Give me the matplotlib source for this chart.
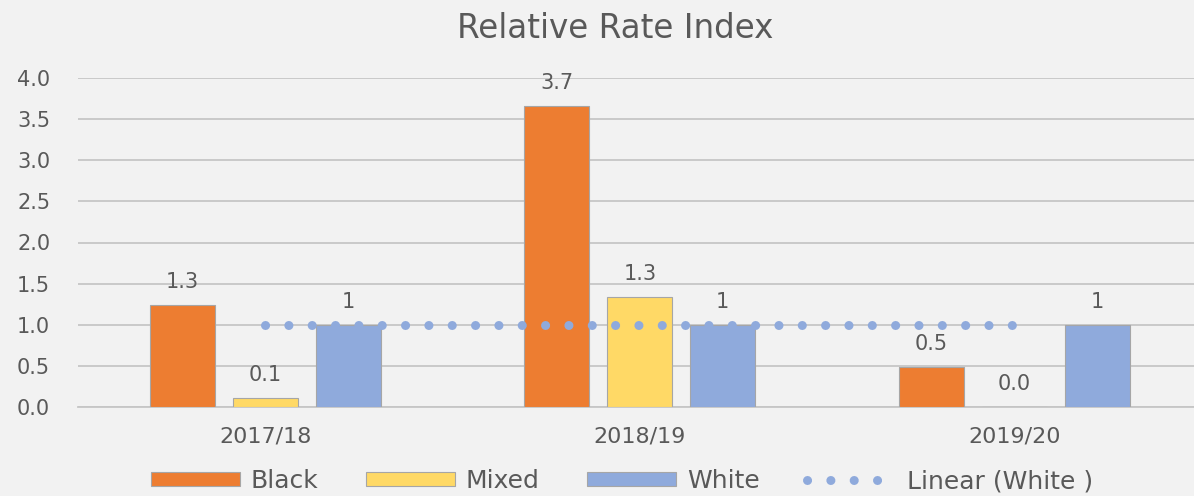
import matplotlib
matplotlib.use("Agg")
import matplotlib.pyplot as plt
import numpy as np

categories = ["2017/18", "2018/19", "2019/20"]
black = [1.24, 3.66, 0.49]
mixed = [0.11, 1.34, 0.0]
white = [1.0, 1.0, 1.0]
black_labels = ["1.3", "3.7", "0.5"]
mixed_labels = ["0.1", "1.3", "0.0"]
white_labels = ["1", "1", "1"]
yticks = [0.0, 0.5, 1.0, 1.5, 2.0, 2.5, 3.0, 3.5, 4.0]

W, H = 1194, 496
fig = plt.figure(figsize=(W / 100, H / 100), dpi=100)
bg = "#f2f2f2"
txt = "#595959"
fig.patch.set_facecolor(bg)
plt.rcParams["font.family"] = ["DejaVu Sans"]

ax_left, ax_right = 78, 1194
ax_top, ax_bottom = 78, 407
ax = fig.add_axes([ax_left / W, 1 - ax_bottom / H, (ax_right - ax_left) / W, (ax_bottom - ax_top) / H])
ax.set_facecolor(bg)

x = np.arange(len(categories))
bw = 0.1736
off = 0.2216
cols = ["#ED7D31", "#FFD966", "#8FAADC"]
series = [black, mixed, white]
names = ["Black", "Mixed", "White"]
labels = [black_labels, mixed_labels, white_labels]
handles = []
for i, (vals, c, n, labs) in enumerate(zip(series, cols, names, labels)):
    bars = ax.bar(x + (i - 1) * off, vals, width=bw, color=c, edgecolor="#a6a6a6",
                  linewidth=0.8, label=n, zorder=3)
    handles.append(bars)
    for b, lab in zip(bars, labs):
        ax.annotate(lab, (b.get_x() + b.get_width() / 2, b.get_height()),
                    xytext=(0, 9.5), textcoords="offset points", ha="center", va="bottom",
                    fontsize=15, color=txt, zorder=5)

# linear trendline of White
coef = np.polyfit(x, white, 1)
trend = np.polyval(coef, x)
tl, = ax.plot(x, trend, color="#8FAADC", linewidth=6.5, linestyle=(0, (0.01, 2.575)),
              dash_capstyle="round", solid_capstyle="round", zorder=4, label="Linear (White )")

ax.set_xlim(-0.5, -0.5 + (ax_right - ax_left) / 374.5)
ax.set_ylim(0, 4.0)
ax.set_yticks(yticks)
ax.set_yticklabels([f"{v:.1f}" for v in yticks])
ax.set_xticks(x)
ax.set_xticklabels(categories)
ax.yaxis.grid(True, color="#c6c6c6", linewidth=1.3, zorder=0)
ax.set_axisbelow(True)
for s in ["top", "right", "left"]:
    ax.spines[s].set_visible(False)
ax.spines["bottom"].set_color("#c6c6c6")
ax.spines["bottom"].set_linewidth(1.3)
ax.tick_params(axis="both", length=0, colors=txt)
ax.tick_params(axis="y", pad=20, labelsize=15)
ax.tick_params(axis="x", pad=14, labelsize=16)

fig.text(615 / W, 1 - 28 / H, "Relative Rate Index", ha="center", va="center",
         fontsize=23.5, color=txt)

leg = fig.legend(handles + [tl], names + ["Linear (White )"], loc="center",
                 bbox_to_anchor=(622 / W, 1 - 481 / H), ncol=4, frameon=False,
                 prop={"size": 18}, handlelength=3.56, handleheight=0.48,
                 handletextpad=0.44, columnspacing=1.9, labelcolor=txt,
                 borderpad=0.2)

fig.savefig("out.png", dpi=100, facecolor=bg)
